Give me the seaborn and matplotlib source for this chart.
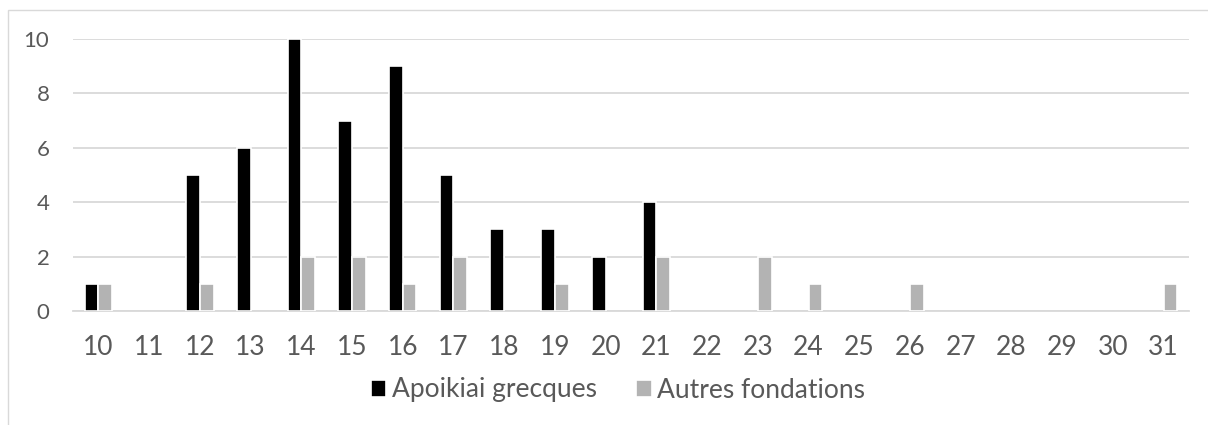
import matplotlib
matplotlib.use("Agg")
import matplotlib.pyplot as plt
import seaborn as sns
import pandas as pd
import numpy as np
from matplotlib.patches import Rectangle

categories = [str(v) for v in range(10, 32)]
apoikiai = [1, 0, 5, 6, 10, 7, 9, 5, 3, 3, 2, 4, 0, 0, 0, 0, 0, 0, 0, 0, 0, 0]
autres = [1, 0, 1, 0, 2, 2, 1, 2, 0, 1, 0, 2, 0, 2, 1, 0, 1, 0, 0, 0, 0, 1]
series_names = ["Apoikiai grecques", "Autres fondations"]
yticks = [0, 2, 4, 6, 8, 10]

df = pd.DataFrame({
    "cat": categories * 2,
    "val": apoikiai + autres,
    "serie": [series_names[0]] * len(categories) + [series_names[1]] * len(categories),
})
# empty counts are left undrawn
df["val"] = df["val"].replace(0, np.nan)

sns.set_theme(style="white")
plt.rcParams["font.family"] = ["Lato", "DejaVu Sans"]
text_col = "#595959"
grid_col = "#D9D9D9"

W, H = 1208, 425
fig = plt.figure(figsize=(W / 100, H / 100), dpi=100)
fig.patch.set_facecolor("white")

# outer chart frame
fig.patches.append(Rectangle((8 / W, -0.1), 1.2, (H - 10) / H + 0.1,
                             transform=fig.transFigure, fill=False,
                             edgecolor=grid_col, linewidth=1.0))

ax = fig.add_axes([73 / W, 114 / H, (1189 - 73) / W, (311 - 39) / H])
sns.barplot(data=df, x="cat", y="val", hue="serie", order=categories,
            hue_order=series_names,
            palette=["#000000", "#B3B3B3"], width=0.54,
            edgecolor="white", linewidth=1.2, ax=ax, legend=True)

ax.set_ylim(0, 10)
ax.set_xlim(-0.5, len(categories) - 0.5)
ax.set_yticks(yticks)
ax.set_yticklabels([str(t) for t in yticks])
ax.yaxis.grid(True, color=grid_col, linewidth=1.3)
ax.set_axisbelow(True)
for s in ["top", "right", "left"]:
    ax.spines[s].set_visible(False)
ax.spines["bottom"].set_color(grid_col)
ax.spines["bottom"].set_linewidth(1.3)
ax.spines["bottom"].set_zorder(0.5)
ax.tick_params(axis="x", length=0, labelsize=19, colors=text_col, pad=17)
ax.tick_params(axis="y", length=0, labelsize=16, colors=text_col, pad=17)
ax.set_xlabel("")
ax.set_ylabel("")

handles, labels = ax.get_legend_handles_labels()
ax.legend(handles, labels, loc="center", bbox_to_anchor=(618 / W, 1 - 390 / H),
          bbox_transform=fig.transFigure, ncol=2, frameon=False,
          fontsize=19, labelcolor=text_col, handlelength=0.6, handleheight=0.6,
          handletextpad=0.2, columnspacing=1.5)

fig.savefig("out.png", dpi=100, facecolor="white")
